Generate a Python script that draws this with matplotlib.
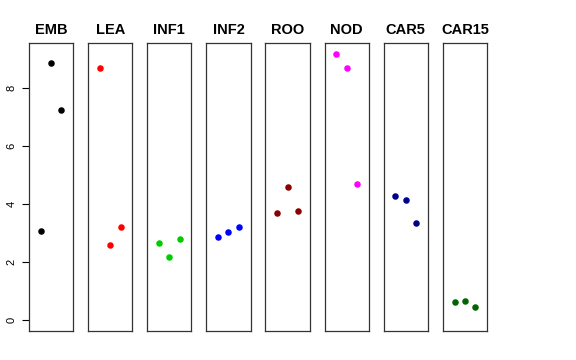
import matplotlib
matplotlib.use("Agg")
import matplotlib.pyplot as plt

# panel names and their point values (three samples each)
tissues = ["EMB", "LEA", "INF1", "INF2", "ROO", "NOD", "CAR5", "CAR15"]
values = [
    [3.08, 8.87, 7.23],
    [8.68, 2.58, 3.22],
    [2.66, 2.18, 2.80],
    [2.85, 3.03, 3.21],
    [3.70, 4.60, 3.76],
    [9.17, 8.69, 4.68],
    [4.29, 4.12, 3.35],
    [0.61, 0.64, 0.46],
]
colors = ["black", "red", "#00CD00", "blue", "#8B0000", "magenta", "#00008B", "#006400"]
samples = [1, 2, 3]
yticks = [0, 2, 4, 6, 8]

plt.rcParams["font.family"] = ["Liberation Sans", "DejaVu Sans"]

W, H = 576, 360
fig = plt.figure(figsize=(W / 100, H / 100), dpi=100)

left0 = 29.0
step = 59.1
pw = 44.3
top_px, bot_px = 43.3, 330.7

ymax = 9.17
pad = ymax * 0.04

for i, (name, vals, col) in enumerate(zip(tissues, values, colors)):
    x0 = left0 + i * step
    ax = fig.add_axes([x0 / W, (H - bot_px) / H, pw / W, (bot_px - top_px) / H])
    ax.scatter(samples, vals, s=22, color=col, zorder=3, linewidths=0)
    ax.set_xlim(-0.16, 4.16)
    ax.set_ylim(-pad, ymax + pad)
    ax.set_xticks([])
    for sp in ax.spines.values():
        sp.set_linewidth(0.9)
        sp.set_color("#333333")
    ax.set_title(name, fontsize=10.5, fontweight="bold", pad=7)
    if i == 0:
        ax.set_yticks(yticks)
        ax.set_yticklabels([str(t) for t in yticks], rotation=90, va="center", fontsize=8)
        ax.tick_params(axis="y", length=5, width=0.8, pad=4)
    else:
        ax.set_yticks([])

fig.savefig("out.png", dpi=100)
